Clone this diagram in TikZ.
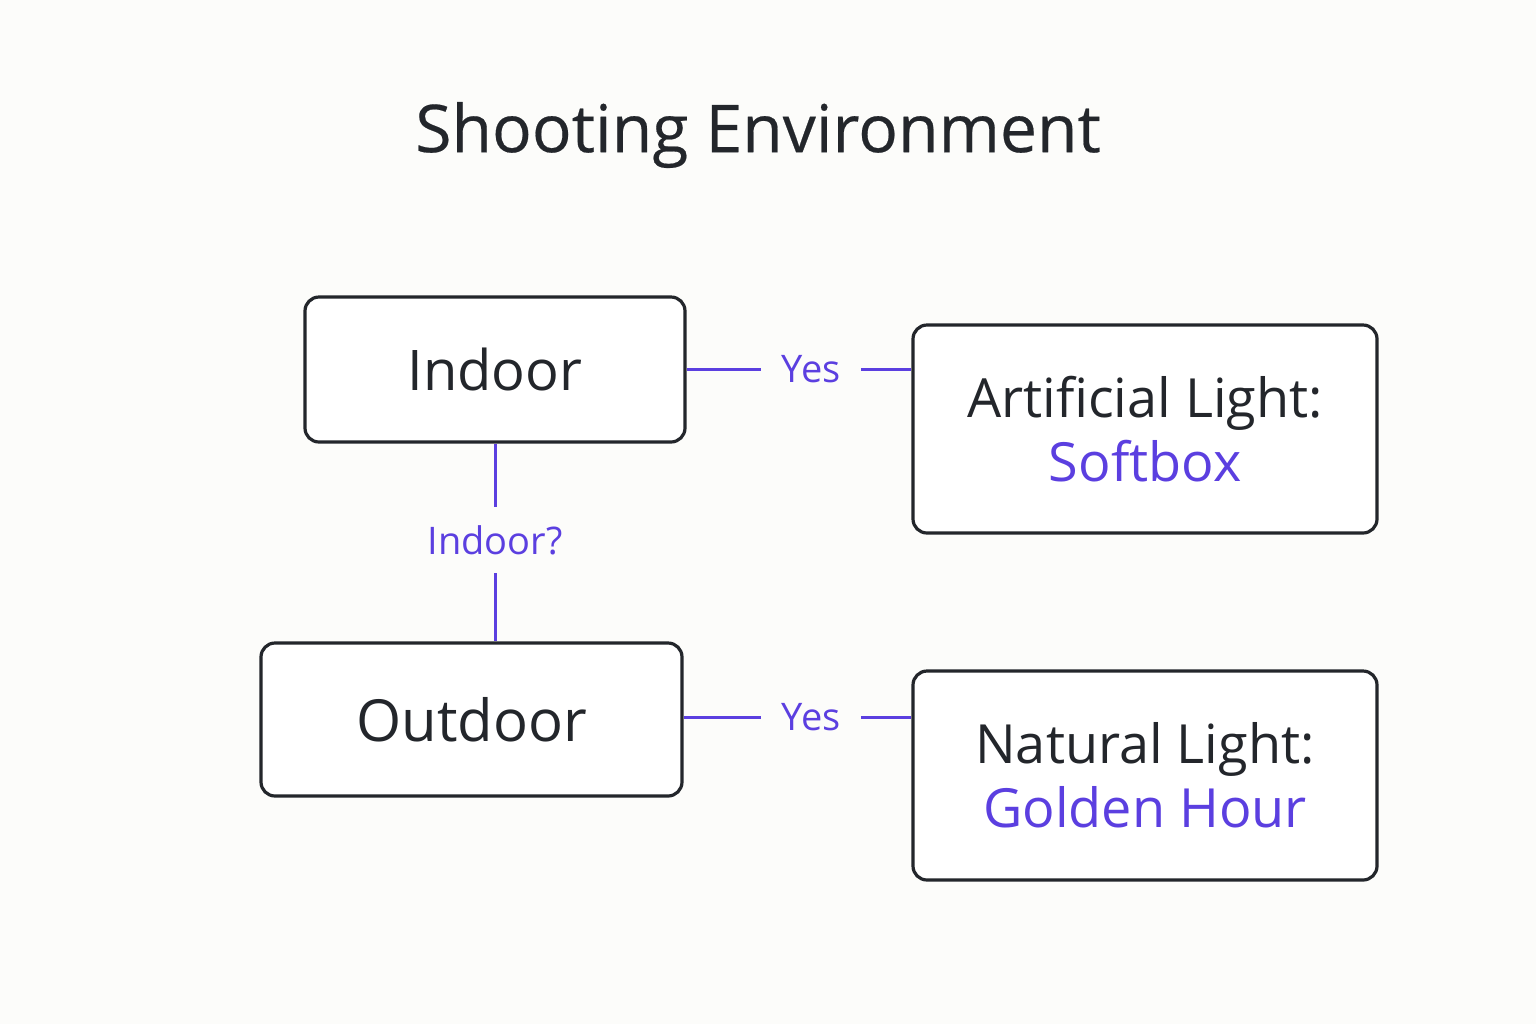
\documentclass[tikz,border=0pt]{standalone}
\usepackage{fontspec}
\setmainfont{Open Sans}
\definecolor{ink}{HTML}{23262B}
\definecolor{purp}{HTML}{5B3FE0}
\definecolor{bg}{HTML}{FCFCFA}
\begin{document}
\begin{tikzpicture}[x=0.5pt,y=-0.5pt,
  box/.style={draw=ink,line width=1.6pt,rounded corners=7pt,fill=white,text=ink,inner sep=0pt,align=center},
  lbl/.style={text=purp,font=\fontsize{19}{22}\selectfont,inner sep=0pt},
  conn/.style={draw=purp,line width=1.5pt}]
\fill[bg] (0,0) rectangle (1536,1024);
\node[text=ink,font=\fontsize{33}{38}\selectfont\addfontfeature{FakeBold=0.3}] (title) at (758,135) {Shooting Environment};
\node[box,minimum width=190pt,minimum height=72.5pt,font=\fontsize{28}{32}\selectfont] (indoor) at (495,369.5) {Indoor};
\node[box,minimum width=232pt,minimum height=104pt,font=\fontsize{27}{34}\selectfont] (art) at (1145,429) {Artificial Light:\\[-2pt]\textcolor{purp}{Softbox}};
\node[box,minimum width=210.5pt,minimum height=76.5pt,font=\fontsize{29}{33}\selectfont] (outdoor) at (471.5,719.5) {Outdoor};
\node[box,minimum width=232pt,minimum height=104.5pt,font=\fontsize{27}{34}\selectfont] (nat) at (1145,775.5) {Natural Light:\\[-2pt]\textcolor{purp}{Golden Hour}};
\node[lbl,inner xsep=10pt] (y1) at (811,369.5) {Yes};
\node[lbl,inner xsep=10pt] (y2) at (811,717.5) {Yes};
\node[lbl,inner ysep=9pt] (q) at (495,540) {Indoor?};
\draw[conn] (indoor.east) -- (y1.west);
\draw[conn] (y1.east) -- (art.west |- y1.east);
\draw[conn] (outdoor.east |- y2.west) -- (y2.west);
\draw[conn] (y2.east) -- (nat.west |- y2.east);
\draw[conn] (indoor.south -| q.north) -- (q.north);
\draw[conn] (q.south) -- (q.south |- outdoor.north);
\end{tikzpicture}
\end{document}
